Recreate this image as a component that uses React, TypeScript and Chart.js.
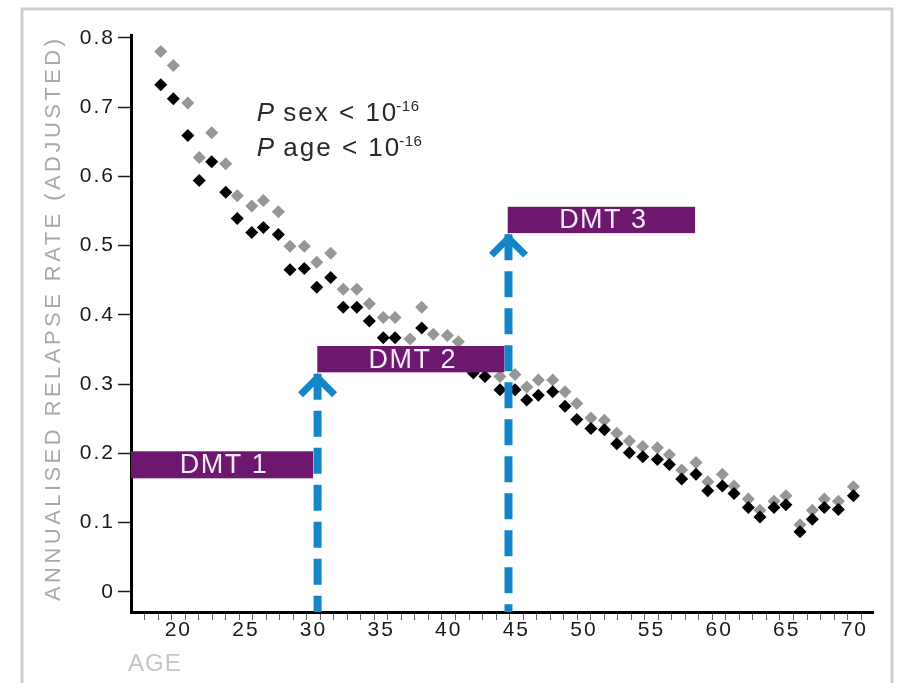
import React, { useEffect, useRef } from "react";
import { Chart, registerables } from "chart.js";

Chart.register(...registerables);

// ---- data ----
const ages = [
  18.7, 19.63, 20.7, 21.55, 22.47, 23.51, 24.36, 25.43, 26.29, 27.4,
  28.26, 29.32, 30.24, 31.27, 32.2, 33.2, 34.13, 35.16, 36.03, 37.14,
  38.0, 38.86, 39.9, 40.71, 41.82, 42.68, 43.79, 44.9, 45.77, 46.63,
  47.69, 48.6, 49.47, 50.52, 51.51, 52.43, 53.36, 54.35, 55.43, 56.32,
  57.23, 58.29, 59.16, 60.24, 61.1, 62.16, 63.02, 64.06, 64.94, 65.98,
  66.89, 67.78, 68.82, 69.93,
];

const grayRates = [
  0.78, 0.76, 0.706, 0.627, 0.663, 0.618, 0.572, 0.557, 0.565, 0.549,
  0.499, 0.499, 0.476, 0.489, 0.437, 0.437, 0.416, 0.396, 0.396, 0.365,
  0.411, 0.372, 0.37, 0.361, 0.335, 0.33, 0.311, 0.314, 0.296, 0.306,
  0.306, 0.289, 0.272, 0.251, 0.248, 0.229, 0.218, 0.21, 0.208, 0.198,
  0.176, 0.187, 0.159, 0.17, 0.153, 0.134, 0.118, 0.131, 0.139, 0.097,
  0.118, 0.134, 0.131, 0.152,
];

const blackRates = [
  0.732, 0.712, 0.659, 0.594, 0.621, 0.577, 0.539, 0.519, 0.526, 0.516,
  0.465, 0.467, 0.44, 0.454, 0.411, 0.411, 0.391, 0.367, 0.367, 0.345,
  0.381, 0.345, 0.343, 0.338, 0.316, 0.311, 0.292, 0.292, 0.277, 0.284,
  0.289, 0.268, 0.249, 0.236, 0.234, 0.214, 0.201, 0.195, 0.191, 0.184,
  0.163, 0.17, 0.146, 0.153, 0.142, 0.122, 0.108, 0.122, 0.126, 0.087,
  0.105, 0.122, 0.119, 0.139,
];

const yTickValues = [0, 0.1, 0.2, 0.3, 0.4, 0.5, 0.6, 0.7, 0.8];
const xTickLabels = [20, 25, 30, 35, 40, 45, 50, 55, 60, 65, 70];
const xMinorTicks = [
  17.5, 18.5, 19.5, 20.5, 21.5, 22.5, 23.5, 24.5, 25.5, 26.5, 27.5, 28.5,
  29.5, 30.5, 31.5, 32.5, 33.5, 34.5, 35.5, 36.5, 37.5, 38.5, 39.5, 40.5,
  41.5, 42.5, 43.5, 44.5, 45.5, 46.5, 47.5, 48.5, 49.5, 50.5, 51.5, 52.5,
  53.5, 54.5, 55.5, 56.5, 57.5, 58.5, 59.5, 60.5, 61.5, 62.5, 63.5, 64.5,
  65.5, 66.5, 67.5, 68.5, 69.5, 70.5,
];

const dmtNames = ["DMT 1", "DMT 2", "DMT 3"];
const dmtFromAge = [16.5, 30.28, 44.36];
const dmtToAge = [29.97, 44.11, 58.22];
const dmtLowRate = [0.164, 0.317, 0.518];
const dmtHighRate = [0.203, 0.355, 0.556];

const arrowAges = [30.3, 44.42];
const arrowTipRates = [0.315, 0.5165];

const yTitle = "ANNUALISED RELAPSE RATE (ADJUSTED)";
const xTitle = "AGE";
const pWords = ["sex", "age"];
const pBound = "10";
const pExponent = "-16";

const FONT = '"Liberation Sans", Arial, sans-serif';

const spacingPlugin = {
  id: "spacing",
  beforeDraw(chart: any) {
    (chart.ctx as any).letterSpacing = "2px";
  },
  afterDraw(chart: any) {
    (chart.ctx as any).letterSpacing = "0px";
  },
};

const overlayPlugin = {
  id: "overlay",
  beforeDraw(chart: any) {
    const ctx = chart.ctx as CanvasRenderingContext2D;
    ctx.save();
    // outer frame
    ctx.strokeStyle = "#cecece";
    ctx.lineWidth = 3;
    ctx.strokeRect(22, 9, 870, 700);

    // y title, letter spaced
    ctx.translate(54, 320);
    ctx.rotate(-Math.PI / 2);
    ctx.font = `22px ${FONT}`;
    (ctx as any).letterSpacing = "0px";
    const w = ctx.measureText(yTitle).width;
    const sp = (562 - w) / (yTitle.length - 1);
    (ctx as any).letterSpacing = `${sp}px`;
    ctx.fillStyle = "#a9a9a9";
    ctx.textAlign = "center";
    ctx.textBaseline = "middle";
    ctx.fillText(yTitle, sp / 2, 0);
    ctx.restore();

    // x title
    ctx.save();
    ctx.font = `24px ${FONT}`;
    (ctx as any).letterSpacing = "1px";
    ctx.fillStyle = "#c6c6c6";
    ctx.textAlign = "left";
    ctx.textBaseline = "alphabetic";
    ctx.fillText(xTitle, 128, 671);
    ctx.restore();
  },
  afterDatasetsDraw(chart: any) {
    const ctx = chart.ctx as CanvasRenderingContext2D;
    const xs = chart.scales.x;
    const ys = chart.scales.y;
    const bottom = chart.chartArea.bottom;

    // dashed arrows
    ctx.save();
    ctx.strokeStyle = "#1585c9";
    arrowAges.forEach((a, i) => {
      const px = xs.getPixelForValue(a);
      const tip = ys.getPixelForValue(arrowTipRates[i]);
      ctx.lineWidth = 8;
      ctx.setLineDash([26, 11]);
      ctx.beginPath();
      ctx.moveTo(px, tip);
      ctx.lineTo(px, bottom);
      ctx.stroke();
      ctx.setLineDash([]);
      ctx.lineWidth = 7;
      ctx.lineJoin = "miter";
      ctx.lineCap = "butt";
      ctx.beginPath();
      ctx.moveTo(px - 17, tip + 21);
      ctx.lineTo(px, tip + 4);
      ctx.lineTo(px + 17, tip + 21);
      ctx.stroke();
    });
    ctx.restore();

    // DMT bars
    ctx.save();
    dmtNames.forEach((name, i) => {
      const x0 = xs.getPixelForValue(dmtFromAge[i]);
      const x1 = xs.getPixelForValue(dmtToAge[i]);
      const y0 = ys.getPixelForValue(dmtHighRate[i]);
      const y1 = ys.getPixelForValue(dmtLowRate[i]);
      ctx.fillStyle = "#6d176f";
      ctx.fillRect(x0, y0, x1 - x0, y1 - y0);
      ctx.fillStyle = "#f1eaf5";
      ctx.font = `27px ${FONT}`;
      (ctx as any).letterSpacing = "1.5px";
      ctx.textAlign = "center";
      ctx.textBaseline = "middle";
      ctx.fillText(name, (x0 + x1) / 2 + 2, (y0 + y1) / 2 + 1);
    });
    ctx.restore();

    // P value annotation
    const anchor = chart.options.plugins.overlay.pAnchor;
    ctx.save();
    ctx.fillStyle = "#2a2a2a";
    ctx.textAlign = "left";
    ctx.textBaseline = "alphabetic";
    pWords.forEach((word, i) => {
      let x = xs.getPixelForValue(anchor.age);
      const base = ys.getPixelForValue(anchor.rates[i]);
      ctx.font = `italic 26px ${FONT}`;
      (ctx as any).letterSpacing = "0px";
      ctx.fillText("P", x, base);
      x += ctx.measureText("P").width;
      ctx.font = `26px ${FONT}`;
      (ctx as any).letterSpacing = "2px";
      const t = ` ${word} < ${pBound}`;
      ctx.fillText(t, x, base);
      x += ctx.measureText(t).width - 2;
      ctx.font = `15px ${FONT}`;
      (ctx as any).letterSpacing = "0.5px";
      ctx.fillText(pExponent, x, base - 10);
    });
    ctx.restore();
  },
};

export default function App() {
  const ref = useRef<HTMLCanvasElement>(null);

  useEffect(() => {
    if (!ref.current) return;
    Chart.defaults.font.family = FONT;
    const chart = new Chart(ref.current, {
      type: "scatter",
      data: {
        datasets: [
          {
            label: "black",
            data: ages.map((a, i) => ({ x: a, y: blackRates[i] })),
            pointStyle: "rectRot",
            pointRadius: 6.5,
            backgroundColor: "#000000",
            borderWidth: 0,
            order: 1,
          },
          {
            label: "gray",
            data: ages.map((a, i) => ({ x: a, y: grayRates[i] })),
            pointStyle: "rectRot",
            pointRadius: 6.5,
            backgroundColor: "#979797",
            borderWidth: 0,
            order: 2,
          },
        ],
      },
      options: {
        animation: false,
        responsive: false,
        events: [],
        layout: { padding: { top: 35, right: 26, bottom: 0, left: 0 } },
        plugins: {
          legend: { display: false },
          tooltip: { enabled: false },
          overlay: { pAnchor: { age: 25.8, rates: [0.68, 0.629] } },
        } as any,
        scales: {
          x: {
            type: "linear",
            min: 16.5,
            max: 71.38,
            afterBuildTicks: (scale: any) => {
              scale.ticks = [...xMinorTicks, ...xTickLabels]
                .sort((a, b) => a - b)
                .map((v) => ({ value: v }));
            },
            afterFit: (scale: any) => {
              scale.height = 71;
            },
            border: { display: true, color: "#000", width: 3 },
            grid: {
              drawOnChartArea: false,
              drawTicks: true,
              tickLength: 8,
              tickWidth: 1,
              tickColor: (c: any) =>
                c.tick && xTickLabels.includes(c.tick.value) ? "rgba(0,0,0,0)" : "#666",
            },
            ticks: {
              autoSkip: false,
              maxRotation: 0,
              minRotation: 0,
              padding: -2,
              color: "#1a1a1a",
              font: { size: 21 },
              callback: (v: any) => (xTickLabels.includes(v) ? String(v) : ""),
            },
          },
          y: {
            type: "linear",
            min: -0.029,
            max: 0.804,
            afterBuildTicks: (scale: any) => {
              scale.ticks = yTickValues.map((v) => ({ value: v }));
            },
            afterFit: (scale: any) => {
              scale.width = 131;
            },
            border: { display: true, color: "#000", width: 3 },
            grid: {
              drawOnChartArea: false,
              drawTicks: true,
              tickLength: 13,
              tickWidth: 1.5,
              tickColor: "#1a1a1a",
            },
            ticks: {
              padding: 3,
              color: "#1a1a1a",
              font: { size: 21 },
              callback: (v: any) => (v === 0 ? "0" : Number(v).toFixed(1)),
            },
          },
        },
      },
      plugins: [spacingPlugin, overlayPlugin],
    });
    return () => chart.destroy();
  }, []);

  return (
    <div
      style={{
        position: "fixed",
        left: 0,
        top: 0,
        width: 899,
        height: 683,
        background: "#ffffff",
        overflow: "hidden",
      }}
    >
      <canvas ref={ref} width={899} height={683} style={{ display: "block", width: 899, height: 683 }} />
    </div>
  );
}
